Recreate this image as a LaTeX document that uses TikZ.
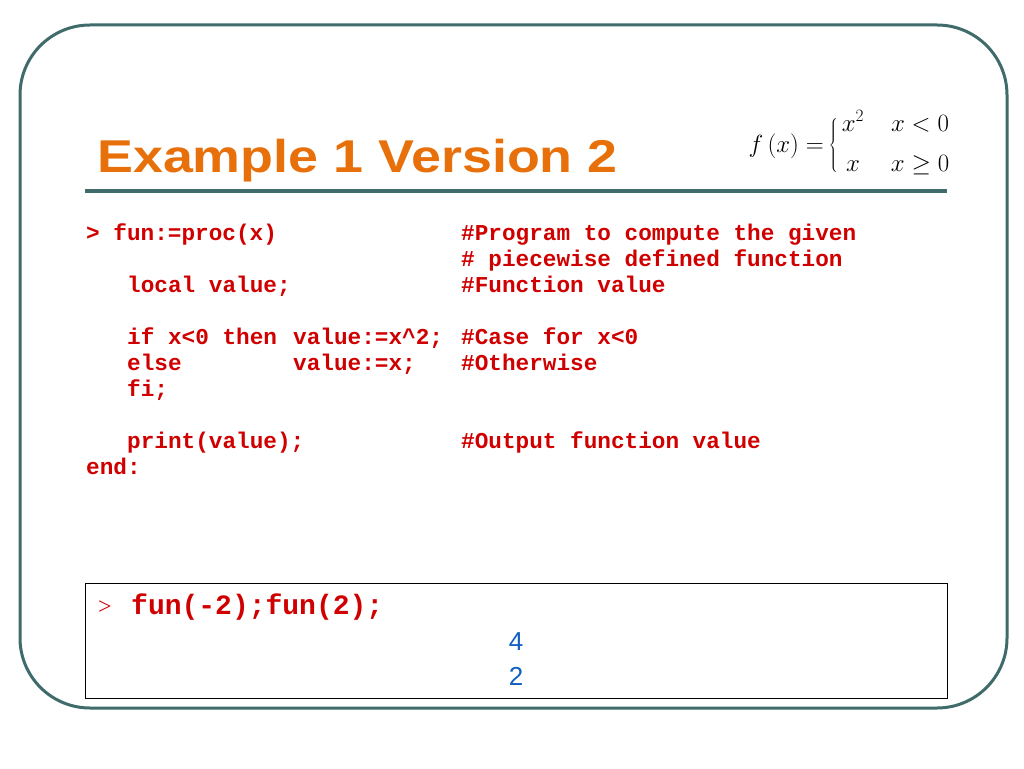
\documentclass[tikz,border=0pt]{standalone}
\usepackage{fontspec}
\setmainfont{Liberation Serif}
\setsansfont{Liberation Sans}
\setmonofont{Liberation Mono}
\definecolor{frame}{HTML}{3F6B6B}
\definecolor{ttl}{HTML}{E8700A}
\definecolor{code}{HTML}{D00000}
\definecolor{outb}{HTML}{1060C0}
\begin{document}
\begin{tikzpicture}[x=1pt,y=-1pt,
  cd/.style={anchor=base west,inner sep=0,text=code,font=\fontsize{22.7}{26}\ttfamily\bfseries},
  mt/.style={anchor=base,inner sep=0,font=\fontsize{24}{26}\selectfont}]
\useasboundingbox (0,0) rectangle (1024,768);
\draw[frame,line width=3,rounded corners=70] (20,25) rectangle (1007,708);
\node[anchor=base west,inner sep=0,text=ttl,font=\fontsize{46}{50}\sffamily\bfseries] (title) at (97,172) {\scalebox{1.17}[1]{Example 1 Version 2}};
\draw[frame,line width=4] (85,191) -- (947,191);
% formula
\node[mt,anchor=base east] (fx) at (824,152) {$f\,(x)=$};
\node[mt,anchor=center] (br) at (834,145) {$\left\{\rule{0pt}{34pt}\right.$};
\node[mt] (a1) at (853,131) {$x^2$};
\node[mt] (a2) at (920,131) {$x<0$};
\node[mt] (b1) at (853,171) {$x$};
\node[mt] (b2) at (920,171) {$x\geq 0$};
% code
\node[cd] (l1) at (86,240) {> fun:=proc(x)};
\node[cd] (l1c) at (461,240) {\#Program to compute the given};
\node[cd] (l2c) at (461,266) {\# piecewise defined function};
\node[cd] (l3) at (127,292) {local value;};
\node[cd] (l3c) at (461,292) {\#Function value};
\node[cd] (l4) at (127,344) {if x<0 then};
\node[cd] (l4b) at (293,344) {value:=x\textasciicircum 2;};
\node[cd] (l4c) at (461,344) {\#Case for x<0};
\node[cd] (l5) at (127,370) {else};
\node[cd] (l5b) at (293,370) {value:=x;};
\node[cd] (l5c) at (461,370) {\#Otherwise};
\node[cd] (l6) at (127,396) {fi;};
\node[cd] (l7) at (127,448) {print(value);};
\node[cd] (l7c) at (461,448) {\#Output function value};
\node[cd] (l8) at (86,474) {end:};
% box
\draw[line width=0.8] (85,583) rectangle (947,698);
\node[anchor=base west,inner sep=0,text=code,font=\fontsize{24}{26}\selectfont] (pr) at (98,614) {>};
\node[cd,font=\fontsize{28}{30}\ttfamily\bfseries] (cmd) at (131,614) {fun(-2);fun(2);};
\node[anchor=base,inner sep=0,text=outb,font=\fontsize{26}{28}\sffamily] (o1) at (516,650) {4};
\node[anchor=base,inner sep=0,text=outb,font=\fontsize{26}{28}\sffamily] (o2) at (516,685) {2};
\end{tikzpicture}
\end{document}
